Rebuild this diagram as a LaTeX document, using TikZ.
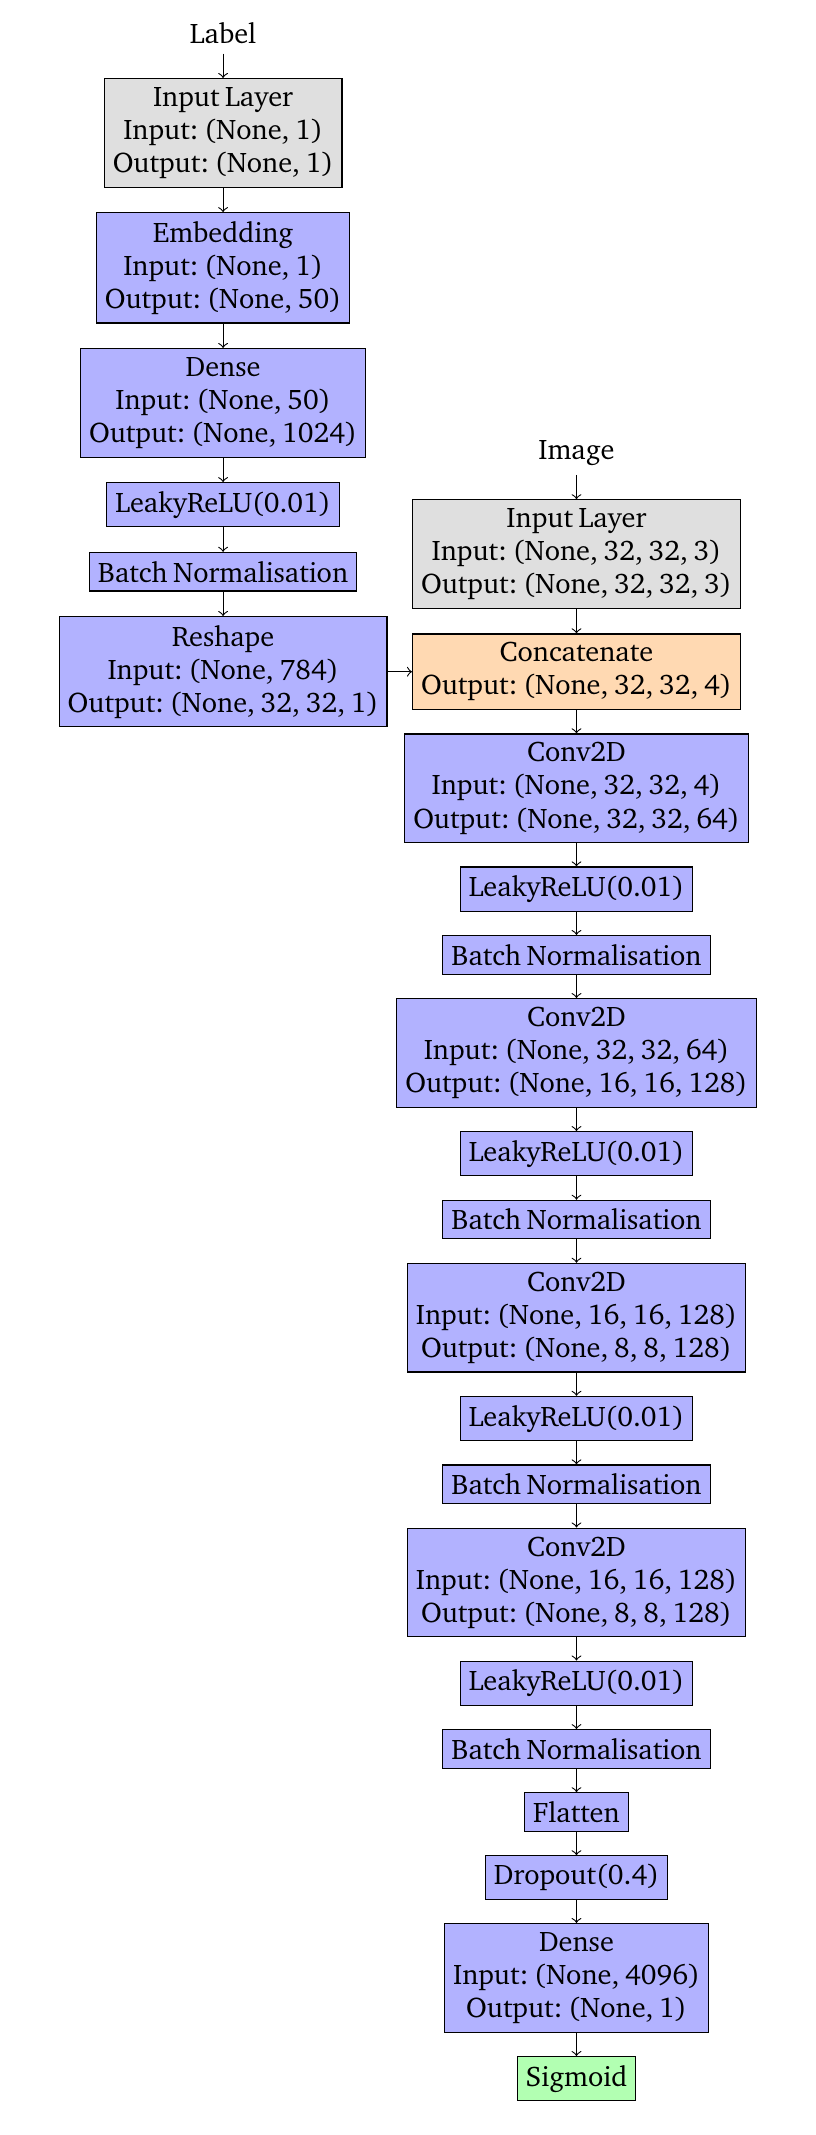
\documentclass[tikz,border=0pt]{standalone}
\usepackage[T1]{fontenc}
\usepackage{charter}
\usetikzlibrary{positioning}

\newcommand{\layerfont}{\fontsize{10.2}{11.9}\selectfont\frenchspacing
  \spaceskip=\dimexpr\fontdimen2\font-0.8pt\relax}

\tikzset{
  every node/.style={font=\layerfont},
  layer/.style={draw, fill=blue!30, align=center, inner sep=3.1pt},
  inlayer/.style={layer, fill=gray!25},
  catlayer/.style={layer, fill=orange!30},
  outlayer/.style={layer, fill=green!30}
}

\begin{document}
\begin{tikzpicture}[node distance=8.8pt, >=to]

\useasboundingbox (0,0) rectangle (293.76pt,-768.6pt);

% entrada do rotulo
\node (label) at (80.3pt,-11.9pt) {Label};
\node[inlayer, below=of label] (lin) {Input Layer\\Input: (None, 1)\\Output: (None, 1)};
\node[layer, below=of lin] (emb) {Embedding\\Input: (None, 1)\\Output: (None, 50)};
\node[layer, below=of emb] (ldense) {Dense\\Input: (None, 50)\\Output: (None, 1024)};
\node[layer, below=of ldense] (lrelu) {LeakyReLU(0.01)};
\node[layer, below=of lrelu] (lbn) {Batch Normalisation};
\node[layer, below=of lbn] (reshape) {Reshape\\Input: (None, 784)\\Output: (None, 32, 32, 1)};

% entrada da imagem
\node[catlayer, right=of reshape] (concat) {Concatenate\\Output: (None, 32, 32, 4)};
\node[inlayer, above=of concat] (iin) {Input Layer\\Input: (None, 32, 32, 3)\\Output: (None, 32, 32, 3)};
\node[above=of iin] (image) {Image};

% discriminador
\begin{scope}[node distance=8.4pt]
\node[layer, below=of concat] (conva) {Conv2D\\Input: (None, 32, 32, 4)\\Output: (None, 32, 32, 64)};
\node[layer, below=of conva] (relua) {LeakyReLU(0.01)};
\node[layer, below=of relua] (bna) {Batch Normalisation};
\node[layer, below=of bna] (convb) {Conv2D\\Input: (None, 32, 32, 64)\\Output: (None, 16, 16, 128)};
\node[layer, below=of convb] (relub) {LeakyReLU(0.01)};
\node[layer, below=of relub] (bnb) {Batch Normalisation};
\node[layer, below=of bnb] (convc) {Conv2D\\Input: (None, 16, 16, 128)\\Output: (None, 8, 8, 128)};
\node[layer, below=of convc] (reluc) {LeakyReLU(0.01)};
\node[layer, below=of reluc] (bnc) {Batch Normalisation};
\node[layer, below=of bnc] (convd) {Conv2D\\Input: (None, 16, 16, 128)\\Output: (None, 8, 8, 128)};
\node[layer, below=of convd] (relud) {LeakyReLU(0.01)};
\node[layer, below=of relud] (bnd) {Batch Normalisation};
\node[layer, below=of bnd] (flat) {Flatten};
\node[layer, below=of flat] (drop) {Dropout(0.4)};
\node[layer, below=of drop] (rdense) {Dense\\Input: (None, 4096)\\Output: (None, 1)};
\node[outlayer, below=of rdense] (sig) {Sigmoid};
\end{scope}

% ligacoes
\draw[->] (label) -- (lin);
\draw[->] (lin) -- (emb);
\draw[->] (emb) -- (ldense);
\draw[->] (ldense) -- (lrelu);
\draw[->] (lrelu) -- (lbn);
\draw[->] (lbn) -- (reshape);
\draw[->] (reshape) -- (concat);
\draw[->] (image) -- (iin);
\draw[->] (iin) -- (concat);
\draw[->] (concat) -- (conva);
\draw[->] (conva) -- (relua);
\draw[->] (relua) -- (bna);
\draw[->] (bna) -- (convb);
\draw[->] (convb) -- (relub);
\draw[->] (relub) -- (bnb);
\draw[->] (bnb) -- (convc);
\draw[->] (convc) -- (reluc);
\draw[->] (reluc) -- (bnc);
\draw[->] (bnc) -- (convd);
\draw[->] (convd) -- (relud);
\draw[->] (relud) -- (bnd);
\draw[->] (bnd) -- (flat);
\draw[->] (flat) -- (drop);
\draw[->] (drop) -- (rdense);
\draw[->] (rdense) -- (sig);

\end{tikzpicture}
\end{document}
